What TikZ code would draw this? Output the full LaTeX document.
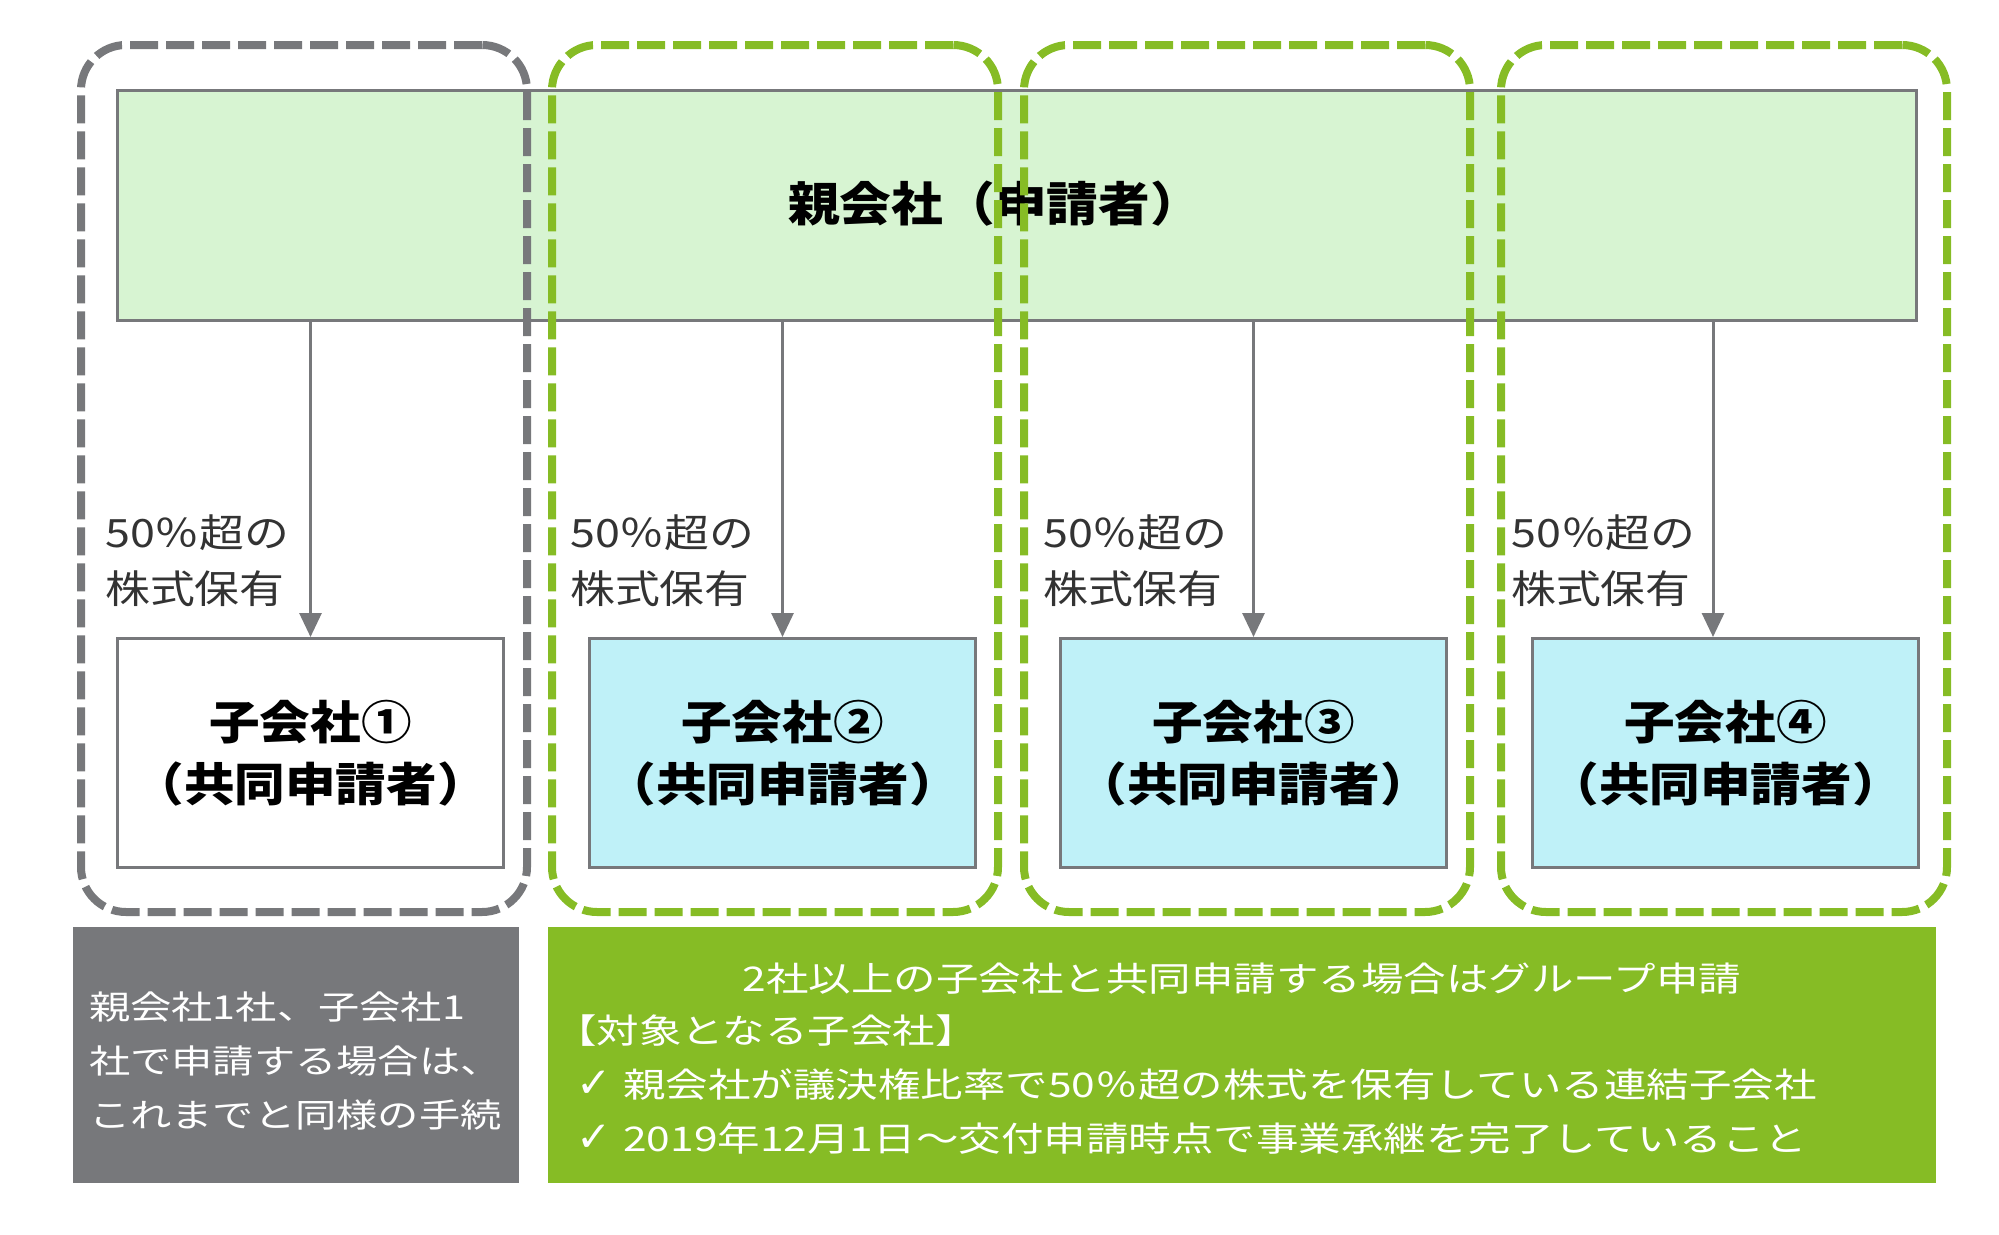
\documentclass[tikz,border=0pt]{standalone}
\usepackage{fontspec}
\usetikzlibrary{arrows.meta}
\newfontfamily\jpA{Noto Sans CJK JP}[FakeStretch=1.1]
\newfontfamily\jpB{Noto Sans CJK JP}[FakeStretch=1.15]
\newfontfamily\jpC{Noto Sans CJK JP}[FakeStretch=1.25]
\newfontfamily\dv{DejaVu Sans}
\newcommand{\chk}{{\dv\fontsize{42}{54}\selectfont ✓}}
\definecolor{gr}{HTML}{77787B}
\definecolor{lg}{HTML}{86BC25}
\definecolor{pfill}{HTML}{D7F4D2}
\definecolor{cfill}{HTML}{BFF1F8}
\definecolor{labc}{HTML}{333333}
\tikzset{
  parentbox/.style={draw=gr, line width=3pt, fill=pfill, minimum width=1799pt, minimum height=230pt, anchor=north west, inner sep=0pt},
  ptextstyle/.style={inner sep=0pt, font=\jpA\bfseries\fontsize{47}{60}\selectfont, text=black},
  childbox/.style={draw=gr, line width=3pt, fill=white, minimum width=386pt, minimum height=229pt, anchor=north west, align=center, inner sep=0pt, font=\jpA\bfseries\fontsize{46}{62}\selectfont, text=black},
  grpbox/.style={line width=8pt, dash pattern=on 28pt off 8pt, rounded corners=45pt, minimum width=446pt, minimum height=867pt, anchor=north west, inner sep=0pt},
  arr/.style={draw=gr, line width=3pt, -{Triangle[width=22pt,length=24pt]}},
  lab/.style={anchor=west, inner sep=0pt, align=left, text=labc, font=\jpB\fontsize{39}{56}\selectfont},
  botbox/.style={minimum height=256pt, anchor=north west, inner sep=0pt},
  bottext/.style={inner sep=0pt, text=white, font=\jpC\fontsize{34}{54}\selectfont},
}
\begin{document}
\begin{tikzpicture}[x=1pt,y=-1pt]
\useasboundingbox (0,0) rectangle (1999,1234);
% parent
\node[parentbox] (parent) at (116,89) {};
\node[ptextstyle] (ptext) at (995,204) {親会社（申請者）};
% children
\node[childbox] (c1) at (116,637) {子会社①\\（共同申請者）};
\node[childbox, fill=cfill] (c2) at (588,637) {子会社②\\（共同申請者）};
\node[childbox, fill=cfill] (c3) at (1059,637) {子会社③\\（共同申請者）};
\node[childbox, fill=cfill] (c4) at (1531,637) {子会社④\\（共同申請者）};
% arrows
\coordinate (t4) at (1713,637);
\draw[arr] (parent.south -| c1.north) -- (c1.north);
\draw[arr] (parent.south -| c2.north) -- (c2.north);
\draw[arr] (parent.south -| c3.north) -- (c3.north);
\draw[arr] (parent.south -| t4) -- (t4);
% labels
\node[lab] (l1) at (105,561) {50％超の\\株式保有};
\node[lab] (l2) at (570,561) {50％超の\\株式保有};
\node[lab] (l3) at (1043,561) {50％超の\\株式保有};
\node[lab] (l4) at (1511,561) {50％超の\\株式保有};
% dashed groups
\node[grpbox, draw=gr] (g1) at (77,41) {};
\node[grpbox, draw=lg] (g2) at (548,41) {};
\node[grpbox, draw=lg] (g3) at (1020,41) {};
\node[grpbox, draw=lg] (g4) at (1497,41) {};
% bottom boxes
\node[botbox, fill=gr, minimum width=446pt] (bgray) at (73,927) {};
\node[botbox, fill=lg, minimum width=1388pt] (bgreen) at (548,927) {};
\node[bottext, anchor=west, align=left, font=\jpC\fontsize{33}{54}\selectfont] (tgray) at (89,1061) {親会社1社、子会社1\\社で申請する場合は、\\これまでと同様の手続};
\node[bottext] (tgreen) at (1242,979) {2社以上の子会社と共同申請する場合はグループ申請};
\node[bottext, anchor=west, align=left] (tlist) at (576,1085) {\hspace*{-22pt}【対象となる子会社】\\\chk\hspace{12pt}親会社が議決権比率で50％超の株式を保有している連結子会社\\\chk\hspace{12pt}2019年12月1日～交付申請時点で事業承継を完了していること};
\end{tikzpicture}
\end{document}
